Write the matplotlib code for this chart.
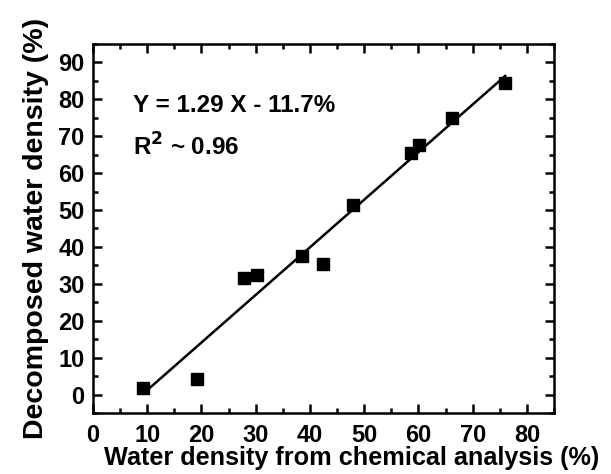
import numpy as np
from matplotlib import pyplot as plt
from matplotlib.ticker import MultipleLocator

plt.rcParams['font.family'] = ['Liberation Sans', 'DejaVu Sans']
plt.rcParams['font.weight'] = 'bold'
plt.rcParams['mathtext.default'] = 'bf'

# data
chem = [9.3, 19.2, 27.9, 30.2, 38.5, 42.4, 47.9, 58.7, 60.1, 66.2, 76.0]
decomp = [1.8, 4.2, 31.7, 32.4, 37.5, 35.3, 51.4, 65.5, 67.6, 75.0, 84.4]
slope = 1.29
intercept = -11.7

fig = plt.figure(figsize=(6.11, 4.74), dpi=100)
ax = fig.add_axes([0.1522, 0.1287, 0.7545, 0.7785])

ax.plot(chem, decomp, 's', color='black', markersize=9, zorder=3)
lin = np.linspace(min(chem), max(chem), 100)
ax.plot(lin, slope * lin + intercept, color='black', linewidth=1.8)

ax.set_xlim(0, 85)
ax.set_ylim(-5, 95)
ax.xaxis.set_major_locator(MultipleLocator(10))
ax.xaxis.set_minor_locator(MultipleLocator(5))
ax.yaxis.set_major_locator(MultipleLocator(10))
ax.yaxis.set_minor_locator(MultipleLocator(5))
ax.tick_params(which='both', direction='in', top=True, right=True, width=1.8)
ax.tick_params(which='major', length=6.5, labelsize=17)
ax.tick_params(axis='x', which='major', pad=8)
ax.tick_params(axis='y', which='major', pad=6)
ax.tick_params(which='minor', length=3.6)
for s in ax.spines.values():
    s.set_linewidth(1.8)

ax.set_xlabel('Water density from chemical analysis (%)', fontsize=18.2, fontweight='bold')
ax.xaxis.set_label_coords(0.56, -0.09)
ax.set_ylabel('Decomposed water density (%)', fontsize=20.5, fontweight='bold', labelpad=7)

ax.text(0.087, 0.832, 'Y = 1.29 X - 11.7%', transform=ax.transAxes, fontsize=17.5,
        fontweight='bold', va='center')
ax.text(0.087, 0.721, r'R$^{2}$ ~ 0.96', transform=ax.transAxes, fontsize=17.5,
        fontweight='bold', va='center')

fig.savefig('out.png', dpi=100)
